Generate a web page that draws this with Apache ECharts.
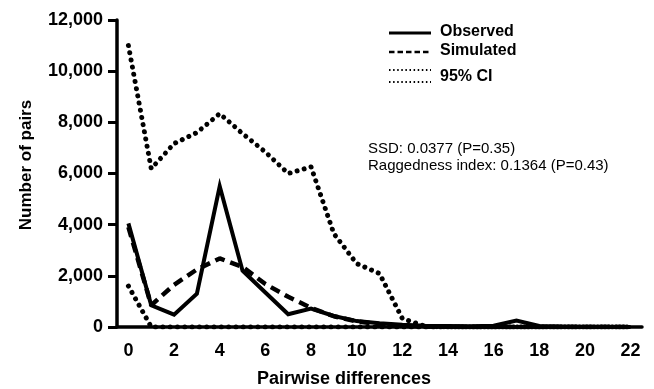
<!DOCTYPE html>
<html>
<head>
<meta charset="utf-8">
<script src="https://cdn.jsdelivr.net/npm/echarts@6/dist/echarts.min.js"></script>
<style>
html,body{margin:0;padding:0;background:#fff;}
#chart{width:654px;height:389px;}
</style>
</head>
<body>
<div id="chart"></div>
<script>
var categories = ['0','1','2','3','4','5','6','7','8','9','10','11','12','13','14','15','16','17','18','19','20','21','22'];
var observed  = [4050, 850, 480, 1300, 5500, 2200, 1350, 500, 720, 430, 230, 150, 90, 50, 40, 30, 50, 250, 40, 20, 10, 10, 0];
var simulated = [3900, 850, 1650, 2250, 2680, 2350, 1680, 1180, 750, 420, 220, 110, 50, 20, 10, 0, 0, 0, 0, 0, 0, 0, 0];
var ciUpper   = [11000, 6190, 7170, 7600, 8340, 7560, 6840, 6000, 6260, 3650, 2480, 2090, 330, 30, 0, 0, 0, 0, 0, 0, 0, 0, 0];
var ciLower   = [1600, 0, 0, 0, 0, 0, 0, 0, 0, 0, 0, 0, 0, 0, 0, 0, 0, 0, 0, 0, 0, 0, 0];
var yTicks = { min: 0, max: 12000, interval: 2000 };

var FONT = "'Liberation Sans', Arial, sans-serif";
var chart = echarts.init(document.getElementById('chart'), null, {renderer: 'canvas'});

function lineSeries(name, data, style) {
  return {
    name: name, type: 'line', data: data, symbol: 'none', showSymbol: false,
    silent: true, animation: false,
    lineStyle: Object.assign({color: '#000'}, style)
  };
}

var option = {
  backgroundColor: '#fff',
  animation: false,
  grid: { left: 117, right: 12, top: 20, bottom: 62 },
  xAxis: {
    type: 'category', data: categories, boundaryGap: true,
    axisLine: { lineStyle: { color: '#000', width: 3.5 } },
    axisTick: { interval: 0, length: 6, lineStyle: { color: '#000', width: 3 } },
    axisLabel: { interval: 1, color: '#000', fontFamily: FONT, fontWeight: 'bold', fontSize: 18, margin: 15 },
    splitLine: { show: false }
  },
  yAxis: {
    type: 'value', min: yTicks.min, max: yTicks.max, interval: yTicks.interval,
    axisLine: { show: true, lineStyle: { color: '#000', width: 3.5 } },
    axisTick: { show: true, length: 9, lineStyle: { color: '#000', width: 3 } },
    axisLabel: { color: '#000', fontFamily: FONT, fontWeight: 'bold', fontSize: 18, margin: 14 },
    splitLine: { show: false }
  },
  series: [
    lineSeries('95% CI upper', ciUpper, { width: 5, type: [0.01, 7.3], cap: 'round' }),
    lineSeries('95% CI lower', ciLower, { width: 5, type: [0.01, 7.3], cap: 'round' }),
    lineSeries('Simulated', simulated, { width: 4.5, type: [10, 6] }),
    lineSeries('Observed', observed, { width: 4, type: 'solid', join: 'miter' })
  ],
  graphic: [
    { type: 'text', x: 26, y: 165, rotation: Math.PI / 2,
      style: { text: 'Number of pairs', fill: '#000', font: 'bold 17px ' + FONT, textAlign: 'center', textVerticalAlign: 'middle' } },
    { type: 'text', x: 344, y: 379,
      style: { text: 'Pairwise differences', fill: '#000', font: 'bold 18px ' + FONT, textAlign: 'center', textVerticalAlign: 'middle' } },
    { type: 'line', shape: { x1: 389, y1: 33, x2: 431, y2: 33 }, style: { stroke: '#000', lineWidth: 3 } },
    { type: 'text', x: 440, y: 32, style: { text: 'Observed', fill: '#000', font: 'bold 16px ' + FONT, textAlign: 'left', textVerticalAlign: 'middle' } },
    { type: 'line', shape: { x1: 389, y1: 52, x2: 431, y2: 52 }, style: { stroke: '#000', lineWidth: 2.5, lineDash: [5.5, 3] } },
    { type: 'text', x: 440, y: 51, style: { text: 'Simulated', fill: '#000', font: 'bold 16px ' + FONT, textAlign: 'left', textVerticalAlign: 'middle' } },
    { type: 'line', shape: { x1: 389, y1: 70, x2: 431, y2: 70 }, style: { stroke: '#000', lineWidth: 2, lineDash: [1.5, 2.6] } },
    { type: 'line', shape: { x1: 389, y1: 82, x2: 431, y2: 82 }, style: { stroke: '#000', lineWidth: 2, lineDash: [1.5, 2.6] } },
    { type: 'text', x: 440, y: 76.5, style: { text: '95% CI', fill: '#000', font: 'bold 16px ' + FONT, textAlign: 'left', textVerticalAlign: 'middle' } },
    { type: 'text', x: 368, y: 148.5, style: { text: 'SSD: 0.0377 (P=0.35)', fill: '#000', font: '15px ' + FONT, textAlign: 'left', textVerticalAlign: 'middle' } },
    { type: 'text', x: 368, y: 165.5, style: { text: 'Raggedness index: 0.1364 (P=0.43)', fill: '#000', font: '15px ' + FONT, textAlign: 'left', textVerticalAlign: 'middle' } }
  ]
};
chart.setOption(option);
</script>
</body>
</html>
